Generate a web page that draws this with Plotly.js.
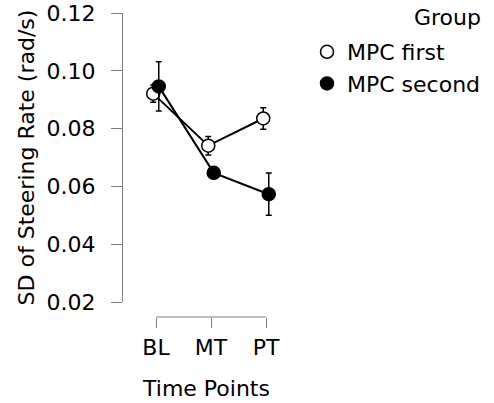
<!DOCTYPE html>
<html>
<head>
<meta charset="utf-8">
<script src="https://cdn.plot.ly/plotly-3.0.1.min.js"></script>
<style>html,body{margin:0;padding:0;background:#fff;}#chart{width:494px;height:403px;}</style>
</head>
<body>
<div id="chart"></div>
<script>
// Data
const timePoints = ["BL", "MT", "PT"];
const groupNames = ["MPC first", "MPC second"];
const mpcFirstMean = [0.0921, 0.0741, 0.0835];
const mpcFirstErr = [0.0030, 0.0032, 0.0037];
const mpcSecondMean = [0.0946, 0.0647, 0.0573];
const mpcSecondErr = [0.0085, 0.0020, 0.0073];
const yTicks = [0.02, 0.04, 0.06, 0.08, 0.10, 0.12];

const idx = timePoints.map((_, i) => i);
const dodge = 0.05;
const xFirst = idx.map(i => i - dodge);
const xSecond = idx.map(i => i + dodge);

const FONT = "DejaVu Sans";
const fs = 22;
const AXC = "#7f7f7f";

function lineTrace(x, y) {
  return {x: x, y: y, type: "scatter", mode: "lines", showlegend: false, hoverinfo: "skip",
    line: {color: "#000", width: 2}};
}
function markerTrace(x, y, e, name, fill) {
  return {x: x, y: y, type: "scatter", mode: "markers", name: name,
    marker: {symbol: "circle", size: 13, color: fill, line: {color: "#000", width: 1.5}},
    error_y: {type: "data", array: e, visible: true, color: "#000", thickness: 1.5, width: 3}};
}

const traces = [
  lineTrace(xFirst, mpcFirstMean),
  markerTrace(xFirst, mpcFirstMean, mpcFirstErr, groupNames[0], "#fff"),
  lineTrace(xSecond, mpcSecondMean),
  markerTrace(xSecond, mpcSecondMean, mpcSecondErr, groupNames[1], "#000")
];

// pixel geometry
const L = 123, R = 204, T = 13, B = 86;
const W = 494 - L - R, H = 403 - T - B;
const px = p => (p - L) / W;
const py = p => (403 - B - p) / H;
const unitPx = 55, x0px = 156;
const xRange = [(L - x0px) / unitPx, (494 - R - x0px) / unitPx];

const layout = {
  width: 494, height: 403,
  margin: {l: L, r: R, t: T, b: B, pad: 0, autoexpand: false},
  paper_bgcolor: "#fff", plot_bgcolor: "rgba(0,0,0,0)",
  font: {family: FONT, size: fs, color: "#000"},
  showlegend: true,
  xaxis: {
    domain: [0, 1], range: xRange, anchor: "free", position: 0,
    tickvals: idx, ticktext: timePoints,
    showline: false,
    ticks: "outside", ticklen: 10, tickcolor: AXC, tickwidth: 1, ticklabelstandoff: 1,
    showgrid: false, zeroline: false,
    tickfont: {family: FONT, size: fs, color: "#000"},
    title: {text: "Time Points", font: {family: FONT, size: fs, color: "#000"}, standoff: 21}
  },
  yaxis: {
    domain: [py(302), 1], range: [0.02, 0.12], anchor: "x",
    tickvals: yTicks, tickformat: ".2f",
    showline: true, linecolor: AXC, linewidth: 1,
    ticks: "outside", ticklen: 11, tickcolor: AXC, tickwidth: 1, ticklabelstandoff: 11,
    showgrid: false, zeroline: false,
    tickfont: {family: FONT, size: fs, color: "#000"},
    title: {text: "SD of Steering Rate (rad/s)", font: {family: FONT, size: fs, color: "#000"}, standoff: 5}
  },
  shapes: [{
    type: "line", xref: "x", yref: "paper", x0: idx[0], x1: idx[idx.length - 1], y0: 0, y1: 0,
    line: {color: AXC, width: 1}
  }],
  legend: {
    x: px(307), xanchor: "left", y: py(31), yanchor: "top",
    font: {family: FONT, size: fs, color: "#000"},
    bgcolor: "rgba(0,0,0,0)", borderwidth: 0, itemsizing: "trace", tracegroupgap: 0
  },
  annotations: [{
    text: "Group", xref: "paper", yref: "paper", x: px(483), y: py(17),
    xanchor: "right", yanchor: "middle", showarrow: false,
    font: {family: FONT, size: fs, color: "#000"}
  }]
};

Plotly.newPlot("chart", traces, layout, {displayModeBar: false, staticPlot: true});
</script>
</body>
</html>
